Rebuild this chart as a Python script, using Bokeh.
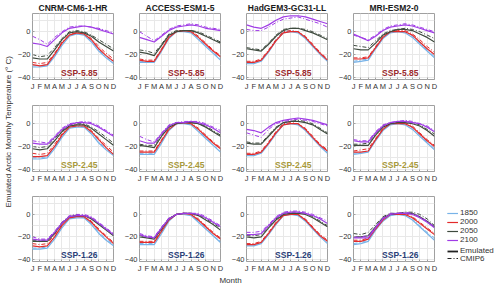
import math
from bokeh.plotting import figure
from bokeh.layouts import row, column
from bokeh.models import Label, Legend, LegendItem, FixedTicker, Range1d
from bokeh.embed import file_html
from bokeh.resources import INLINE

FONT = "Liberation Sans"

months = [1, 2, 3, 4, 5, 6, 7, 8, 9, 10, 11, 12]
month_labels = ["J", "F", "M", "A", "M", "J", "J", "A", "S", "O", "N", "D"]
y_ticks = [-40, -20, 0]
y_grid = [-40, -30, -20, -10, 0, 10]
models = ["CNRM-CM6-1-HR", "ACCESS-ESM1-5", "HadGEM3-GC31-LL", "MRI-ESM2-0"]
scenarios = ["SSP-5.85", "SSP-2.45", "SSP-1.26"]
scenario_colors = ["#9c2b2e", "#a8993c", "#2b3f78"]
years = ["1850", "2000", "2050", "2100"]
year_colors = ["#78b3e8", "#e32b2b", "#3f4b3f", "#a03ce6"]

# each entry: year -> (emulated, CMIP6)
cnrm_585 = {
    "1850": ([-31, -31, -30, -22, -12, -4, -2, -3, -9, -17, -23, -28], [-30, -30, -29, -21, -11, -3, -2, -2, -8, -16, -22, -27]),
    "2000": ([-29, -30, -29, -20, -10, -3, -1, -2, -7, -15, -21, -26], [-27, -28, -27, -19, -9, -2, -1, -1, -6, -13, -19, -24]),
    "2050": ([-23, -24, -24, -16, -7, -1, 0, -1, -4, -9, -13, -17], [-20, -22, -21, -14, -6, 0, 1, 0, -3, -7, -11, -15]),
    "2100": ([-10, -11, -13, -7, -1, 3, 4, 5, 4, 2, 0, -2], [-4, -7, -11, -5, 0, 4, 5, 5, 4, 3, 1, -1]),
}
access_585 = {
    "1850": ([-27, -27, -27, -17, -6, 0, 0, -1, -7, -13, -19, -25], [-26, -26, -26, -16, -5, 0, 1, 0, -6, -12, -18, -24]),
    "2000": ([-25, -26, -26, -16, -5, 0, 1, 0, -5, -11, -17, -22], [-24, -25, -25, -15, -4, 0, 1, 1, -4, -10, -16, -21]),
    "2050": ([-18, -19, -21, -12, -3, 0, 1, 1, -1, -4, -7, -10], [-16, -17, -19, -11, -2, 1, 1, 1, 0, -3, -6, -9]),
    "2100": ([-5, -7, -9, -4, 1, 4, 5, 6, 5, 3, 2, 1], [0, -4, -8, -3, 2, 5, 6, 7, 6, 4, 3, 2]),
}
hadgem_585 = {
    "1850": ([-28, -28, -26, -18, -8, -1, 0, -1, -6, -13, -20, -26], [-27, -27, -25, -17, -7, 0, 1, 0, -5, -12, -19, -25]),
    "2000": ([-27, -27, -25, -17, -8, -1, 0, 0, -5, -12, -19, -25], [-26, -26, -24, -16, -7, 0, 1, 0, -4, -11, -18, -24]),
    "2050": ([-15, -16, -17, -11, -4, 1, 3, 3, 1, -1, -4, -7], [-14, -15, -16, -10, -3, 2, 3, 3, 2, 0, -3, -6]),
    "2100": ([6, 4, 3, 6, 10, 13, 14, 14, 13, 11, 9, 7], [2, 1, 1, 4, 8, 11, 12, 13, 11, 9, 7, 4]),
}
mri_585 = {
    "1850": ([-27, -26, -25, -15, -6, -1, 0, -1, -5, -11, -17, -23], [-26, -25, -24, -14, -5, 0, 0, 0, -4, -10, -16, -22]),
    "2000": ([-24, -24, -23, -14, -5, 0, 0, 0, -3, -9, -15, -20], [-23, -23, -22, -13, -4, 0, 1, 1, -2, -7, -13, -18]),
    "2050": ([-15, -16, -16, -10, -3, 0, 2, 2, 1, -2, -5, -9], [-12, -13, -14, -8, -2, 1, 2, 3, 2, 0, -3, -6]),
    "2100": ([-2, -5, -8, -4, 1, 4, 5, 6, 5, 3, 1, -1], [-3, -5, -7, -3, 2, 5, 6, 7, 6, 4, 2, 0]),
}

cnrm_245 = {
    "1850": ([-31, -31, -30, -22, -12, -4, -3, -3, -9, -17, -23, -28], [-30, -30, -29, -21, -11, -4, -2, -3, -8, -16, -22, -27]),
    "2000": ([-29, -29, -28, -20, -10, -3, -2, -2, -7, -14, -21, -27], [-26, -27, -26, -18, -9, -2, -1, -1, -6, -13, -19, -25]),
    "2050": ([-22, -23, -22, -15, -7, -2, -1, -1, -4, -9, -14, -19], [-20, -21, -20, -13, -6, -1, 0, 0, -3, -7, -12, -17]),
    "2100": ([-17, -18, -18, -12, -5, -1, 1, 1, 0, -3, -7, -11], [-15, -16, -17, -11, -4, 0, 1, 2, 1, -2, -6, -10]),
}
access_245 = {
    "1850": ([-27, -27, -27, -17, -6, 0, 0, -1, -7, -13, -19, -25], [-26, -26, -26, -16, -5, 0, 1, 0, -6, -12, -19, -24]),
    "2000": ([-25, -25, -25, -15, -5, 0, 1, 0, -5, -11, -17, -22], [-24, -24, -24, -14, -4, 0, 1, 1, -4, -10, -16, -21]),
    "2050": ([-19, -20, -21, -11, -3, 0, 1, 1, 0, -3, -7, -11], [-18, -19, -19, -10, -2, 1, 1, 1, 0, -2, -6, -10]),
    "2100": ([-15, -17, -17, -9, -2, 1, 1, 2, 1, -1, -4, -8], [-11, -14, -16, -8, -1, 1, 2, 2, 2, 0, -3, -6]),
}
hadgem_245 = {
    "1850": ([-28, -28, -26, -18, -9, -1, 0, -1, -6, -13, -20, -26], [-27, -27, -25, -17, -8, 0, 0, 0, -5, -12, -19, -25]),
    "2000": ([-27, -27, -25, -17, -8, -1, 0, 0, -5, -12, -19, -24], [-26, -26, -24, -16, -7, 0, 1, 0, -4, -11, -18, -23]),
    "2050": ([-17, -18, -18, -11, -4, 1, 2, 2, 1, -1, -5, -9], [-16, -17, -17, -10, -3, 1, 2, 3, 2, 0, -4, -8]),
    "2100": ([-5, -6, -8, -3, 1, 3, 4, 5, 4, 3, 1, -1], [-8, -10, -12, -5, 0, 2, 3, 4, 3, 2, 0, -2]),
}
mri_245 = {
    "1850": ([-27, -26, -25, -15, -6, -1, 0, -1, -5, -11, -17, -23], [-26, -25, -24, -14, -5, 0, 0, 0, -4, -10, -16, -22]),
    "2000": ([-25, -25, -24, -14, -5, 0, 0, 0, -3, -9, -15, -20], [-24, -23, -22, -13, -4, 0, 1, 1, -2, -8, -14, -19]),
    "2050": ([-19, -19, -19, -10, -3, 0, 1, 1, 0, -2, -6, -11], [-18, -18, -17, -9, -2, 1, 1, 2, 1, -1, -5, -9]),
    "2100": ([-15, -16, -16, -8, -2, 1, 2, 2, 1, 0, -3, -7], [-14, -15, -15, -7, -1, 1, 2, 3, 2, 0, -2, -6]),
}

cnrm_126 = {
    "1850": ([-31, -31, -30, -22, -12, -4, -3, -3, -9, -17, -23, -28], [-30, -30, -29, -21, -11, -4, -2, -3, -8, -16, -22, -27]),
    "2000": ([-28, -29, -28, -20, -10, -3, -2, -2, -7, -14, -20, -26], [-26, -27, -26, -18, -9, -2, -1, -1, -6, -13, -19, -25]),
    "2050": ([-24, -24, -24, -17, -8, -2, -1, -1, -4, -9, -14, -19], [-23, -23, -23, -16, -7, -2, 0, -1, -3, -8, -13, -18]),
    "2100": ([-22, -23, -23, -16, -8, -2, -1, -1, -3, -8, -13, -18], [-20, -22, -22, -15, -7, -1, 0, 0, -2, -7, -12, -17]),
}
access_126 = {
    "1850": ([-27, -27, -27, -17, -6, 0, 0, -1, -7, -13, -19, -25], [-26, -26, -26, -16, -5, 0, 1, 0, -6, -12, -19, -24]),
    "2000": ([-25, -25, -25, -15, -5, 0, 1, 0, -5, -11, -17, -22], [-24, -24, -24, -14, -4, 0, 1, 1, -4, -10, -16, -21]),
    "2050": ([-20, -21, -22, -13, -4, 0, 1, 1, -1, -5, -9, -14], [-19, -20, -21, -12, -3, 0, 1, 1, 0, -4, -8, -12]),
    "2100": ([-18, -20, -21, -12, -4, 0, 1, 1, 0, -3, -7, -11], [-17, -19, -20, -11, -3, 0, 1, 1, 1, -2, -6, -10]),
}
hadgem_126 = {
    "1850": ([-28, -28, -26, -18, -9, -1, 0, -1, -6, -13, -20, -26], [-27, -27, -25, -17, -8, 0, 0, 0, -5, -12, -19, -25]),
    "2000": ([-27, -27, -25, -17, -8, -1, 0, 0, -5, -12, -19, -24], [-26, -26, -24, -16, -7, 0, 1, 0, -4, -11, -18, -23]),
    "2050": ([-20, -21, -20, -12, -5, 0, 1, 1, 0, -3, -7, -11], [-19, -19, -18, -11, -4, 1, 2, 2, 1, -2, -6, -10]),
    "2100": ([-18, -18, -17, -10, -3, 1, 2, 2, 1, -1, -4, -8], [-16, -16, -15, -9, -2, 2, 3, 3, 2, 0, -3, -6]),
}
mri_126 = {
    "1850": ([-27, -26, -24, -14, -6, -1, 0, -1, -5, -11, -17, -23], [-26, -25, -23, -13, -5, 0, 0, 0, -4, -10, -16, -21]),
    "2000": ([-24, -24, -22, -13, -5, 0, 0, 0, -3, -8, -13, -18], [-23, -23, -21, -12, -4, 0, 1, 1, -2, -7, -12, -17]),
    "2050": ([-20, -20, -19, -11, -3, 0, 1, 1, 1, -2, -6, -11], [-17, -18, -16, -9, -2, 1, 1, 2, 2, 0, -4, -10]),
    "2100": ([-21, -21, -21, -12, -4, 0, 1, 1, 0, -3, -7, -12], [-20, -20, -19, -11, -3, 1, 1, 2, 1, -2, -6, -11]),
}

panel_data = [
    [cnrm_585, access_585, hadgem_585, mri_585],
    [cnrm_245, access_245, hadgem_245, mri_245],
    [cnrm_126, access_126, hadgem_126, mri_126],
]

FRAME_W, FRAME_H = 84, 66
LEFT, RIGHT = 15, 8
TOPS = [13, 4, 4]
BOTTOMS = [22, 21, 13]
MONTH_H = 11
AXIS_COLOR = "#a0a0a0"
TEXT_COLOR = "#333333"


def make_panel(mi, si, data):
    top, bottom = TOPS[si], BOTTOMS[si]
    p = figure(width=LEFT + FRAME_W + RIGHT, height=top + FRAME_H + bottom,
               x_range=Range1d(1, 12), y_range=Range1d(-42, 16),
               toolbar_location=None, output_backend="svg",
               title=models[mi] if si == 0 else None,
               min_border_left=LEFT, min_border_right=RIGHT,
               min_border_top=top, min_border_bottom=bottom)
    if si == 0:
        p.title.align = "center"
        p.title.text_font = FONT
        p.title.text_font_size = "8.5px"
        p.title.text_font_style = "bold"
        p.title.text_color = "#1a1a1a"
        p.title.standoff = 1
        p.title.offset = 0
    p.outline_line_color = AXIS_COLOR
    p.outline_line_width = 1
    p.xaxis.ticker = FixedTicker(ticks=months)
    p.xaxis.major_label_overrides = {m: l for m, l in zip(months, month_labels)}
    p.yaxis.ticker = FixedTicker(ticks=y_ticks)
    p.xgrid.ticker = FixedTicker(ticks=months)
    p.ygrid.ticker = FixedTicker(ticks=y_grid)
    p.grid.grid_line_color = "#e8e8e8"
    p.grid.grid_line_width = 1
    for ax in (p.xaxis, p.yaxis):
        ax.axis_line_color = None
        ax.major_tick_in = 2
        ax.major_tick_out = 0
        ax.major_tick_line_color = AXIS_COLOR
        ax.minor_tick_line_color = None
        ax.major_label_text_font = FONT
        ax.major_label_text_font_size = "7.5px"
        ax.major_label_text_color = TEXT_COLOR
        ax.major_label_standoff = 2
    for yi, yr in enumerate(years):
        emu, cmip = data[yr]
        c = year_colors[yi]
        p.line(months, cmip, line_color=c, line_width=1.0, line_dash="4 2 1 2")
        p.line(months, emu, line_color=c, line_width=1.2)
    p.add_layout(Label(x=7.35, y=-36, text=scenarios[si], text_align="center",
                       text_baseline="middle", text_font=FONT, text_font_style="bold",
                       text_font_size="8.5px", text_color=scenario_colors[si]))
    return p


def blank(width, height, xr, yr):
    p = figure(width=width, height=height, x_range=Range1d(*xr), y_range=Range1d(*yr),
               toolbar_location=None, output_backend="svg", title=None,
               x_axis_location=None, y_axis_location=None, min_border=0)
    p.outline_line_color = None
    p.grid.grid_line_color = None
    return p


rows = []
for si in range(3):
    rows.append(row(*[make_panel(mi, si, panel_data[si][mi]) for mi in range(4)]))

GRID_W = 4 * (LEFT + FRAME_W + RIGHT)
YLAB_W = 14
month_fig = blank(GRID_W, MONTH_H, (0, GRID_W), (0, MONTH_H))
month_fig.add_layout(Label(x=230 - YLAB_W, y=MONTH_H - 4, text="Month", text_align="center",
                           text_baseline="middle", text_font=FONT, text_font_size="8px",
                           text_color=TEXT_COLOR))
grid = column(*rows, month_fig)

TOTAL_H = sum(TOPS) + sum(BOTTOMS) + 3 * FRAME_H + MONTH_H
ylab = blank(YLAB_W, TOTAL_H, (0, YLAB_W), (0, TOTAL_H))
ylab.add_layout(Label(x=7.5, y=TOTAL_H - 131, text="Emulated Arctic Monthly Temperature (\u00b0 C)",
                      angle=math.pi / 2, text_align="center", text_baseline="middle",
                      text_font=FONT, text_font_size="8px", text_color=TEXT_COLOR))

leg = blank(54, TOTAL_H, (0, 1), (0, 1))
items = []
for yi, yr in enumerate(years):
    r1 = leg.line(x=[0, 0], y=[0, 0], line_color=year_colors[yi], line_width=1.2)
    r2 = leg.line(x=[0, 0], y=[0, 0], line_color=year_colors[yi], line_width=1.0, line_dash="3 1")
    items.append(LegendItem(label=yr, renderers=[r1, r2]))
r_emu = leg.line(x=[0, 0], y=[0, 0], line_color="#222222", line_width=1.8)
r_cm = leg.line(x=[0, 0], y=[0, 0], line_color="#222222", line_width=1.2, line_dash="4 2 1 2")
legend_style = dict(label_text_font=FONT, label_text_font_size="8px", label_text_color=TEXT_COLOR,
                    glyph_width=11, glyph_height=6, spacing=0, padding=0, margin=0,
                    label_standoff=2, border_line_color=None, background_fill_alpha=0)
leg.add_layout(Legend(items=items, location=(5, TOTAL_H - 244), label_height=9, **legend_style))
leg.add_layout(Legend(items=[LegendItem(label="Emulated", renderers=[r_emu])],
                      location=(5, TOTAL_H - 255), label_height=9, **legend_style))
leg.add_layout(Legend(items=[LegendItem(label="CMIP6", renderers=[r_cm])],
                      location=(5, TOTAL_H - 262.5), label_height=9, **legend_style))

layout = row(ylab, grid, leg)

open("out.html", "w").write(file_html(layout, INLINE))
